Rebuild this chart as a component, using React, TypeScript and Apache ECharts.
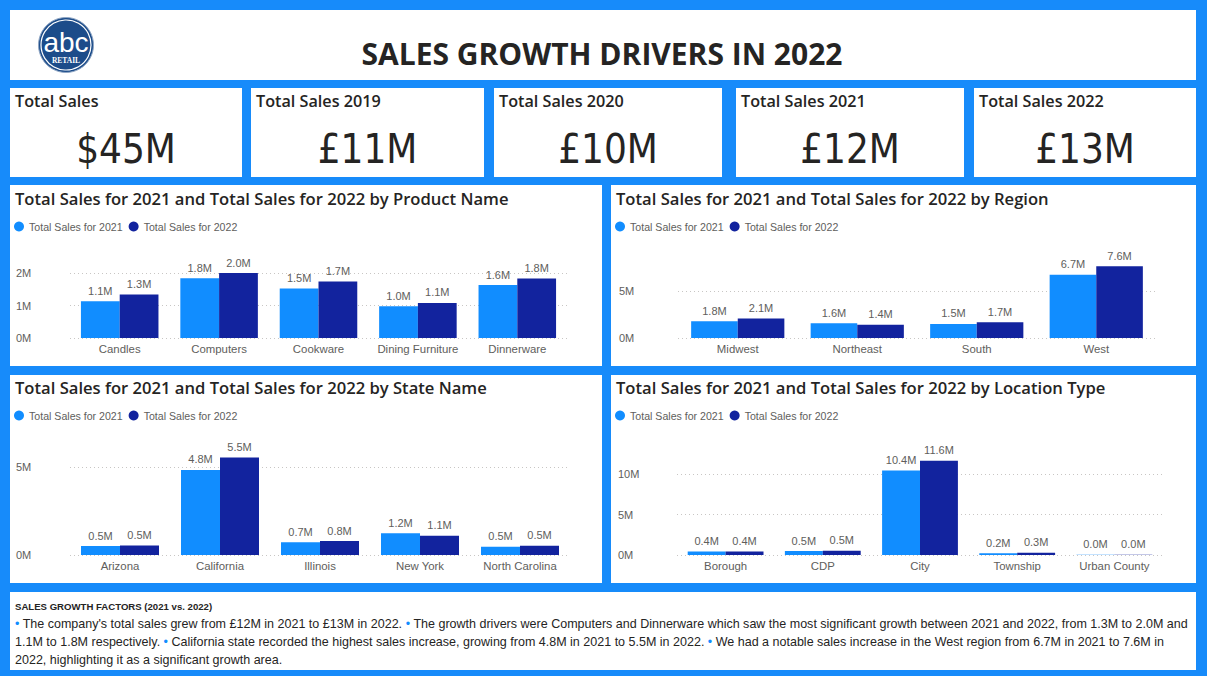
import React, { useEffect, useRef } from "react";
import * as echarts from "echarts";

const BLUE = "#118DFF";
const NAVY = "#12239E";
const PAGE_BLUE = "#178BFA";
const TEXT_DARK = "#252423";
const TEXT_GRAY = "#605E5C";
const UI_FONT = "'Open Sans', 'Noto Sans', sans-serif";
const BODY_FONT = "'Liberation Sans', Arial, sans-serif";
const KPI_FONT = "'DejaVu Sans Condensed', 'DejaVu Sans', sans-serif";

const reportTitle = "SALES GROWTH DRIVERS IN 2022";
const seriesNames = ["Total Sales for 2021", "Total Sales for 2022"];

const kpiLabels = ["Total Sales", "Total Sales 2019", "Total Sales 2020", "Total Sales 2021", "Total Sales 2022"];
const kpiValues = ["$45M", "£11M", "£10M", "£12M", "£13M"];

const productNames = ["Candles", "Computers", "Cookware", "Dining Furniture", "Dinnerware"];
const product2021 = [1.13, 1.84, 1.52, 0.98, 1.63];
const product2022 = [1.34, 2.0, 1.74, 1.08, 1.83];

const regionNames = ["Midwest", "Northeast", "South", "West"];
const region2021 = [1.78, 1.56, 1.5, 6.74];
const region2022 = [2.07, 1.41, 1.67, 7.64];

const stateNames = ["Arizona", "California", "Illinois", "New York", "North Carolina"];
const state2021 = [0.51, 4.83, 0.72, 1.23, 0.47];
const state2022 = [0.54, 5.54, 0.79, 1.09, 0.53];

const locationNames = ["Borough", "CDP", "City", "Township", "Urban County"];
const location2021 = [0.42, 0.48, 10.42, 0.22, 0.04];
const location2022 = [0.44, 0.52, 11.63, 0.27, 0.045];

const chartTitles = [
  "Total Sales for 2021 and Total Sales for 2022 by Product Name",
  "Total Sales for 2021 and Total Sales for 2022 by Region",
  "Total Sales for 2021 and Total Sales for 2022 by State Name",
  "Total Sales for 2021 and Total Sales for 2022 by Location Type",
];

const footerTitle = "SALES GROWTH FACTORS (2021 vs. 2022)";
const footerLines = [
  "{b|•} The company's total sales grew from £12M in 2021 to £13M in 2022. {b|•} The growth drivers were Computers and Dinnerware which saw the most significant growth between 2021 and 2022, from 1.3M to 2.0M and",
  "1.1M to 1.8M respectively. {b|•} California state recorded the highest sales increase, growing from 4.8M in 2021 to 5.5M in 2022. {b|•} We had a notable sales increase in the West region from 6.7M in 2021 to 7.6M in",
  "2022, highlighting it as a significant growth area.",
];

// layout of the four chart panels
const chartLayouts = [
  { panel: [10, 185, 592, 181], titleY: 198, legendTop: 221, grid: [70, 273, 497, 65], max: 2, interval: 1, labelMargin: 54, cats: productNames, a: product2021, b: product2022 },
  { panel: [611, 185, 585, 181], titleY: 198, legendTop: 221, grid: [678, 291, 478, 47], max: 5, interval: 5, labelMargin: 59, cats: regionNames, a: region2021, b: region2022 },
  { panel: [10, 375, 592, 208], titleY: 387, legendTop: 410, grid: [70, 467, 500, 88], max: 5, interval: 5, labelMargin: 54, cats: stateNames, a: state2021, b: state2022 },
  { panel: [611, 375, 585, 208], titleY: 387, legendTop: 410, grid: [677, 474, 486, 81], max: 10, interval: 5, labelMargin: 59, cats: locationNames, a: location2021, b: location2022 },
];

const kpiCards = [
  [10, 88, 232, 89],
  [251, 88, 233, 89],
  [494, 88, 228, 89],
  [736, 88, 228, 89],
  [974, 88, 222, 89],
];

function txt(x: number, y: number, text: string, o: any = {}) {
  return {
    type: "text",
    x,
    y,
    z: 10,
    style: {
      text,
      fill: o.fill || TEXT_DARK,
      fontSize: o.fontSize || 12,
      fontFamily: o.fontFamily || UI_FONT,
      fontWeight: o.fontWeight || "normal",
      textAlign: o.align || "left",
      align: o.align || "left",
      textVerticalAlign: "middle",
      verticalAlign: "middle",
      rich: o.rich,
    },
  };
}

function panel(x: number, y: number, w: number, h: number) {
  return { type: "rect", z: -5, shape: { x, y, width: w, height: h }, style: { fill: "#FFFFFF" } };
}

export default function App() {
  const ref = useRef<HTMLDivElement>(null);

  useEffect(() => {
    if (!ref.current) return;
    const chart = echarts.init(ref.current, null, { renderer: "svg" });

    const graphics: any[] = [];
    // header
    graphics.push(panel(10, 10, 1186, 70));
    graphics.push({ type: "circle", z: 5, shape: { cx: 66, cy: 45, r: 27.5 }, style: { fill: "#1C4C8A", stroke: "#8FA6C4", lineWidth: 1 } });
    graphics.push({ type: "circle", z: 6, shape: { cx: 66, cy: 45, r: 25 }, style: { fill: "none", stroke: "#FFFFFF", lineWidth: 1.2 } });
    graphics.push(txt(66, 42, "abc", { fill: "#FFFFFF", fontSize: 28, fontFamily: BODY_FONT, align: "center" }));
    graphics.push(txt(66, 60, "RETAIL", { fill: "#FFFFFF", fontSize: 7.5, fontFamily: "'Liberation Serif', 'DejaVu Serif', serif", fontWeight: "bold", align: "center" }));
    graphics.push(txt(602, 53, reportTitle, { fontSize: 30, fontWeight: "bold", align: "center" }));

    // KPI cards
    kpiCards.forEach((c, i) => {
      graphics.push(panel(c[0], c[1], c[2], c[3]));
      graphics.push(txt(c[0] + 5, 101, kpiLabels[i], { fontSize: 16.2, fontWeight: 600 }));
      graphics.push(txt(c[0] + c[2] / 2, 149, kpiValues[i], { fontSize: 40, fontFamily: KPI_FONT, align: "center" }));
    });

    // chart panels
    chartLayouts.forEach((l, i) => {
      graphics.push(panel(l.panel[0], l.panel[1], l.panel[2], l.panel[3]));
      graphics.push(txt(l.panel[0] + 5, l.titleY, chartTitles[i], { fontSize: 16.6, fontWeight: 600 }));
    });

    // footer
    graphics.push(panel(10, 592, 1186, 78));
    graphics.push(txt(15, 606, footerTitle, { fontSize: 9.6, fontWeight: "bold", fontFamily: BODY_FONT }));
    footerLines.forEach((line, i) => {
      graphics.push(
        txt(15, 624 + i * 18, line, {
          fontSize: 12.52,
          fontFamily: BODY_FONT,
          rich: { b: { fill: BLUE, color: BLUE, fontSize: 12.52, fontFamily: BODY_FONT } },
        })
      );
    });

    const grids: any[] = [];
    const xAxes: any[] = [];
    const yAxes: any[] = [];
    const legends: any[] = [];
    const series: any[] = [];

    chartLayouts.forEach((l, i) => {
      grids.push({ left: l.grid[0], top: l.grid[1], width: l.grid[2], height: l.grid[3], containLabel: false });
      xAxes.push({
        type: "category",
        gridIndex: i,
        data: l.cats,
        axisLine: { show: false },
        axisTick: { show: false },
        axisLabel: { color: TEXT_GRAY, fontSize: 11.4, fontFamily: BODY_FONT, margin: 5, interval: 0 },
      });
      yAxes.push({
        type: "value",
        gridIndex: i,
        min: 0,
        max: l.max,
        interval: l.interval,
        axisLine: { show: false },
        axisTick: { show: false },
        axisLabel: {
          color: TEXT_GRAY,
          fontSize: 11,
          fontFamily: BODY_FONT,
          align: "left",
          margin: l.labelMargin,
          formatter: (v: number) => v + "M",
        },
        splitLine: { show: true, lineStyle: { color: "#C8C6C4", type: [1, 3], width: 1 } },
      });
      legends.push({
        left: l.panel[0] + 4,
        top: l.legendTop,
        icon: "circle",
        itemWidth: 10,
        itemHeight: 10,
        itemGap: 6,
        padding: 0,
        textStyle: { color: TEXT_GRAY, fontSize: 10.6, fontFamily: BODY_FONT },
        data: seriesNames,
        selectedMode: false,
      });
      [l.a, l.b].forEach((vals, k) => {
        series.push({
          type: "bar",
          name: seriesNames[k],
          xAxisIndex: i,
          yAxisIndex: i,
          data: vals,
          clip: false,
          barGap: "0%",
          barCategoryGap: "22%",
          itemStyle: { color: k === 0 ? BLUE : NAVY },
          label: {
            show: true,
            position: "top",
            distance: 5,
            color: TEXT_GRAY,
            fontSize: 11,
            fontFamily: BODY_FONT,
            formatter: (p: any) => Number(p.value).toFixed(1) + "M",
          },
        });
      });
    });

    chart.setOption({
      animation: false,
      backgroundColor: PAGE_BLUE,
      graphic: { elements: graphics },
      grid: grids,
      xAxis: xAxes,
      yAxis: yAxes,
      legend: legends,
      series,
    });

    return () => chart.dispose();
  }, []);

  return <div ref={ref} style={{ position: "fixed", left: 0, top: 0, width: 1207, height: 676 }} />;
}
